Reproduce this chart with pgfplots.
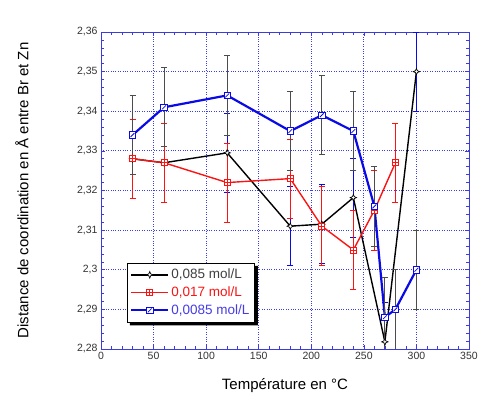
\documentclass[border=0pt]{standalone}
\usepackage{pgfplots}
\pgfplotsset{compat=1.18}
\usepackage{fontspec}
\setmainfont{Liberation Sans}
\definecolor{gridblue}{RGB}{60,60,240}
\definecolor{axblue}{RGB}{60,60,220}
\definecolor{serblue}{RGB}{10,10,230}
\definecolor{serred}{RGB}{250,20,20}
\definecolor{legblue}{RGB}{70,60,230}
\makeatletter
\pgfdeclareplotmark{boxplus}{%
  \pgfpathrectangle{\pgfpoint{-\pgfplotmarksize}{-\pgfplotmarksize}}{\pgfpoint{2\pgfplotmarksize}{2\pgfplotmarksize}}%
  \pgfusepathqfillstroke
  \pgfpathmoveto{\pgfpoint{-\pgfplotmarksize}{0pt}}\pgfpathlineto{\pgfpoint{\pgfplotmarksize}{0pt}}%
  \pgfpathmoveto{\pgfpoint{0pt}{-\pgfplotmarksize}}\pgfpathlineto{\pgfpoint{0pt}{\pgfplotmarksize}}%
  \pgfusepathqstroke}
\pgfdeclareplotmark{boxslash}{%
  \pgfpathrectangle{\pgfpoint{-\pgfplotmarksize}{-\pgfplotmarksize}}{\pgfpoint{2\pgfplotmarksize}{2\pgfplotmarksize}}%
  \pgfusepathqfillstroke
  \pgfpathmoveto{\pgfpoint{-0.6\pgfplotmarksize}{-0.6\pgfplotmarksize}}\pgfpathlineto{\pgfpoint{0.6\pgfplotmarksize}{0.6\pgfplotmarksize}}%
  \pgfusepathqstroke}
\pgfdeclareplotmark{starplus}{%
  \pgfpathmoveto{\pgfpoint{0pt}{\pgfplotmarksize}}%
  \pgfpathlineto{\pgfpoint{0.3\pgfplotmarksize}{0.3\pgfplotmarksize}}%
  \pgfpathlineto{\pgfpoint{\pgfplotmarksize}{0pt}}%
  \pgfpathlineto{\pgfpoint{0.3\pgfplotmarksize}{-0.3\pgfplotmarksize}}%
  \pgfpathlineto{\pgfpoint{0pt}{-\pgfplotmarksize}}%
  \pgfpathlineto{\pgfpoint{-0.3\pgfplotmarksize}{-0.3\pgfplotmarksize}}%
  \pgfpathlineto{\pgfpoint{-\pgfplotmarksize}{0pt}}%
  \pgfpathlineto{\pgfpoint{-0.3\pgfplotmarksize}{0.3\pgfplotmarksize}}%
  \pgfpathclose
  \pgfusepathqfillstroke}
\makeatother
\begin{document}
\begin{tikzpicture}
\begin{axis}[
  scale only axis,
  width=368pt, height=317pt,
  xmin=0, xmax=350, ymin=2.28, ymax=2.36,
  xtick={0,50,...,350},
  ytick={2.28,2.29,2.30,2.31,2.32,2.33,2.34,2.35,2.36},
  minor x tick num=4, minor y tick num=4,
  tick align=inside,
  major tick length=4pt, minor tick length=3pt,
  axis line style={axblue, line width=0.9pt},
  every tick/.style={axblue, line width=0.6pt},
  grid=major,
  major grid style={gridblue, dotted, line width=0.8pt},
  /pgf/number format/assume math mode=true,
  /pgf/number format/use comma,
  /pgf/number format/precision=2,
  yticklabel style={/pgf/number format/fixed, font=\fontsize{10.5}{12}\selectfont, text=black!80},
  xticklabel style={font=\fontsize{10.5}{12}\selectfont, text=black!80},
  scaled y ticks=false,
  xlabel={Température en °C},
  ylabel={Distance de coordination en Å entre Br et Zn},
  xlabel style={font=\fontsize{15}{18}\selectfont, at={(axis description cs:0.5,-0.114)}, anchor=center},
  ylabel style={font=\fontsize{15}{18}\selectfont, at={(axis description cs:-0.215,0.5)}, anchor=center},
  legend style={at={(axis description cs:0.07,0.272)}, anchor=north west,
    name=leg,
    draw=black, line width=0.8pt, fill=white,
    font=\fontsize{13.5}{15}\selectfont, row sep=2.5pt, inner xsep=3pt, inner ysep=4pt,
    nodes={inner xsep=2pt}},
  legend cell align=left,
  legend image code/.code={\draw[mark repeat=2,mark phase=2] plot coordinates {(0.1cm,0cm)(0.75cm,0cm)(1.4cm,0cm)};},
  error bars/y dir=both, error bars/y fixed=0.01,
]
\addplot[black, line width=1.4pt, mark=starplus, mark size=3.2pt,
  mark options={fill=white, line width=0.7pt},
  error bars/error bar style={serblue, line width=0.9pt},
  error bars/error mark options={serblue, rotate=90, mark size=3pt, line width=0.9pt}]
  coordinates {(30,2.328) (60,2.327) (120,2.3295) (180,2.311) (210,2.3115) (240,2.3182) (270,2.2818) (300,2.35)};
\addlegendentry{\textcolor{black!75}{0,085 mol/L}}
\addplot[serred, line width=1.4pt, mark=boxplus, mark size=3pt,
  mark options={fill=white, line width=0.7pt},
  error bars/error bar style={serred, line width=0.8pt},
  error bars/error mark options={serred, rotate=90, mark size=3pt, line width=0.8pt}]
  coordinates {(30,2.328) (60,2.327) (120,2.322) (180,2.323) (210,2.311) (240,2.305) (260,2.315) (280,2.327)};
\addlegendentry{\textcolor{serred}{0,017 mol/L}}
\addplot[serblue, line width=2.2pt, mark=boxslash, mark size=3.2pt,
  mark options={fill=white, line width=0.8pt},
  error bars/error bar style={black!70, line width=0.9pt},
  error bars/error mark options={black!70, rotate=90, mark size=3pt, line width=0.9pt}]
  coordinates {(30,2.334) (60,2.341) (120,2.344) (180,2.335) (210,2.339) (240,2.335) (260,2.316) (270,2.288) (280,2.290) (300,2.300)};
\addlegendentry{\textcolor{legblue}{0,0085 mol/L}}
\end{axis}
\fill[black] ([xshift=3pt]leg.south west) -- ([shift={(3pt,-3pt)}]leg.south west) -- ([shift={(3pt,-3pt)}]leg.south east)
  -- ([shift={(3pt,-3pt)}]leg.north east) -- ([yshift=-3pt]leg.north east) -- (leg.south east) -- cycle;
\pgfresetboundingbox
\path ([shift={(-101pt,-53pt)}]current axis.south west) rectangle ([shift={(12pt,32pt)}]current axis.north east);
\end{tikzpicture}
\end{document}
